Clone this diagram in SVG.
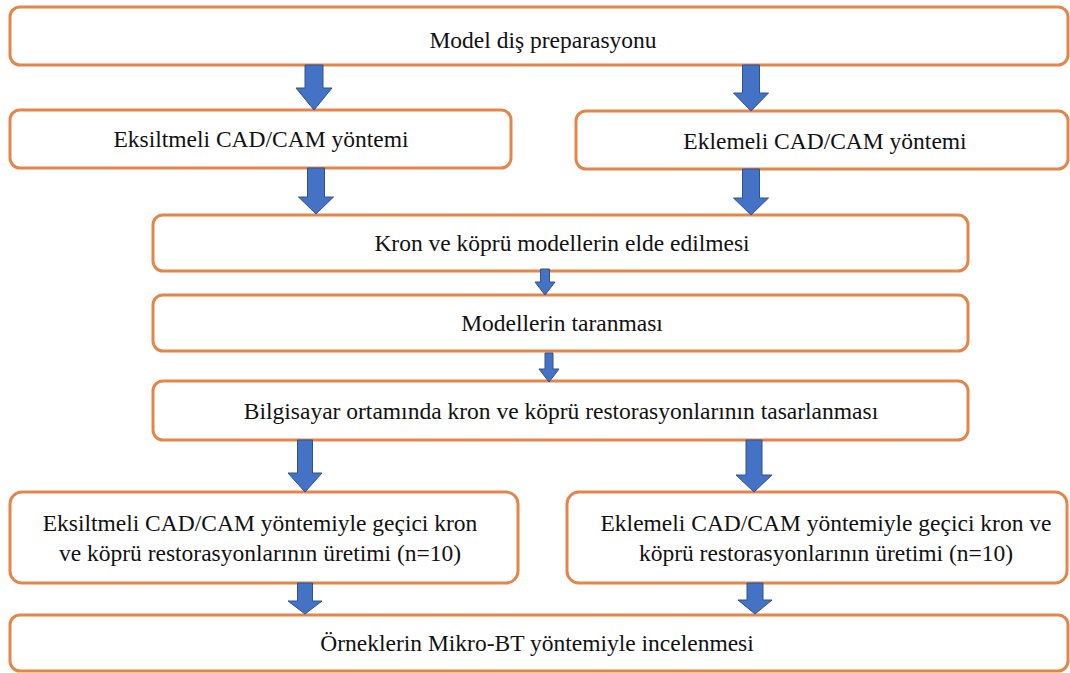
<svg xmlns="http://www.w3.org/2000/svg" width="1070" height="673" viewBox="0 0 1070 673">
<style>
.box{fill:#ffffff;stroke:#E4854A;stroke-width:3}
.t{font-family:'Liberation Serif','Tinos','Times New Roman','DejaVu Serif',serif;font-size:23.5px;fill:#111111;text-anchor:middle}
.arr{fill:#4472C4;stroke:#2F528F;stroke-width:1}
</style>
<rect width="1070" height="673" fill="#ffffff"/>
<g id="node-model">
<rect class="box" x="10" y="7" width="1058" height="58" rx="10"/>
<text class="t" x="543" y="48" font-family="Liberation Serif, Tinos, Times New Roman, DejaVu Serif, serif">Model diş preparasyonu</text>
</g>
<g id="node-eksiltmeli">
<rect class="box" x="10" y="110" width="501" height="58" rx="10"/>
<text class="t" x="261" y="147">Eksiltmeli CAD/CAM yöntemi</text>
</g>
<g id="node-eklemeli">
<rect class="box" x="576" y="111" width="492" height="58" rx="10"/>
<text class="t" x="825" y="149">Eklemeli CAD/CAM yöntemi</text>
</g>
<g id="node-kron">
<rect class="box" x="153" y="215" width="815" height="56" rx="10"/>
<text class="t" x="562" y="251">Kron ve köprü modellerin elde edilmesi</text>
</g>
<g id="node-tarama">
<rect class="box" x="153" y="295" width="815" height="56" rx="10"/>
<text class="t" x="562" y="331">Modellerin taranması</text>
</g>
<g id="node-tasarim">
<rect class="box" x="153" y="381" width="815" height="59" rx="10"/>
<text class="t" x="561" y="419">Bilgisayar ortamında kron ve köprü restorasyonlarının tasarlanması</text>
</g>
<g id="node-eks-uretim">
<rect class="box" x="10" y="492" width="508" height="91" rx="12"/>
<text class="t" x="260" y="531">Eksiltmeli CAD/CAM yöntemiyle geçici kron</text>
<text class="t" x="260" y="561">ve köprü restorasyonlarının üretimi (n=10)</text>
</g>
<g id="node-ekl-uretim">
<rect class="box" x="567" y="492" width="500" height="91" rx="12"/>
<text class="t" x="826" y="531">Eklemeli CAD/CAM yöntemiyle geçici kron ve</text>
<text class="t" x="826" y="561">köprü restorasyonlarının üretimi (n=10)</text>
</g>
<g id="node-mikrobt">
<rect class="box" x="10" y="615" width="1058" height="56" rx="10"/>
<text class="t" x="537" y="651">Örneklerin Mikro-BT yöntemiyle incelenmesi</text>
</g>
<g id="connectors">
<polygon class="arr" points="305,65 323,65 323,88 332,88 314,110 296,88 305,88"/>
<polygon class="arr" points="742.5,65 759.5,65 759.5,93 768.5,93 751,111 733.5,93 742.5,93"/>
<polygon class="arr" points="307.5,168 324.5,168 324.5,197 333.5,197 316,214 298.5,197 307.5,197"/>
<polygon class="arr" points="742.5,169 759.5,169 759.5,198 768.5,198 751,215 733.5,198 742.5,198"/>
<polygon class="arr" points="540.5,269 549.5,269 549.5,282 555,282 545,295 535,282 540.5,282"/>
<polygon class="arr" points="545,353 553,353 553,369 559,369 549,382 539,369 545,369"/>
<polygon class="arr" points="297.5,440 312.5,440 312.5,473 322,473 305,492 288,473 297.5,473"/>
<polygon class="arr" points="746,440 762,440 762,475 772,475 754,492 736,475 746,475"/>
<polygon class="arr" points="297.5,583 312.5,583 312.5,601 322,601 305,614 288,601 297.5,601"/>
<polygon class="arr" points="747,583 763,583 763,600 772,600 755,614 738,600 747,600"/>
</g>
</svg>
